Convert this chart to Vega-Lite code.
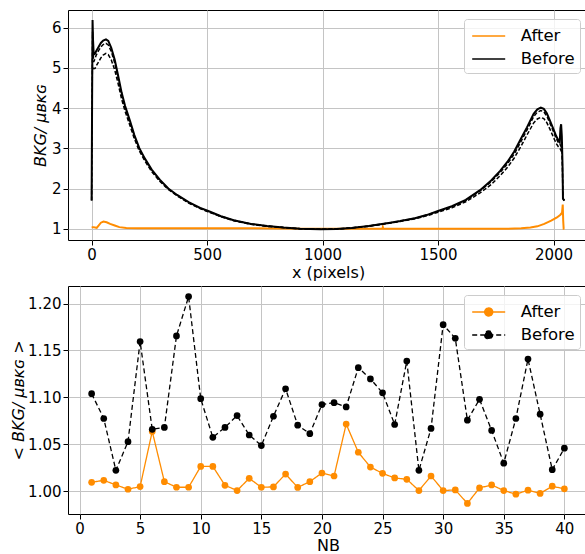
{
  "$schema": "https://vega.github.io/schema/vega-lite/v6.json",
  "padding": {"left": 10, "top": 9, "right": 0, "bottom": 0},
  "spacing": 46,
  "bounds": "flush",
  "resolve": {"scale": {"color": "independent", "strokeDash": "independent"}, "legend": {"color": "independent", "strokeDash": "independent"}},
  "config": {
    "font": "DejaVu Sans",
    "view": {"stroke": "#000000", "strokeWidth": 1},
    "axis": {"grid": true, "gridColor": "#c4c4c4", "gridWidth": 1, "domain": false, "tickColor": "#000000", "tickSize": 5, "labelFontSize": 15, "labelColor": "#000000", "labelPadding": 2, "titleFontSize": 16, "titleFontWeight": "normal", "titleColor": "#000000", "labelFlush": false},
    "legend": {"orient": "top-right", "offset": 8.5, "padding": 5, "strokeColor": "#cccccc", "fillColor": "rgba(255,255,255,0.8)", "cornerRadius": 3, "labelFontSize": 16.5, "labelColor": "#000000", "symbolSize": 484, "symbolStrokeWidth": 1.5, "labelOffset": 27.7, "rowPadding": 2, "title": null}
  },
  "datasets": {
    "top": [
      {"x":0,"v":1.04,"c":"a","s":"After"},{"x":8,"v":1.04,"c":"a","s":"After"},{"x":15,"v":1.03,"c":"a","s":"After"},{"x":22,"v":1.02,"c":"a","s":"After"},{"x":30,"v":1.08,"c":"a","s":"After"},{"x":40,"v":1.15,"c":"a","s":"After"},{"x":51,"v":1.18,"c":"a","s":"After"},{"x":65,"v":1.16,"c":"a","s":"After"},{"x":80,"v":1.12,"c":"a","s":"After"},{"x":100,"v":1.08,"c":"a","s":"After"},{"x":120,"v":1.04,"c":"a","s":"After"},{"x":150,"v":1.02,"c":"a","s":"After"},{"x":200,"v":1.01,"c":"a","s":"After"},{"x":300,"v":1.01,"c":"a","s":"After"},{"x":400,"v":1.01,"c":"a","s":"After"},{"x":500,"v":1.01,"c":"a","s":"After"},{"x":600,"v":1.01,"c":"a","s":"After"},{"x":700,"v":1.01,"c":"a","s":"After"},{"x":800,"v":1.005,"c":"a","s":"After"},{"x":900,"v":1.0,"c":"a","s":"After"},{"x":1000,"v":1.0,"c":"a","s":"After"},{"x":1100,"v":1.0,"c":"a","s":"After"},{"x":1200,"v":1.0,"c":"a","s":"After"},{"x":1259,"v":1.0,"c":"a","s":"After"},{"x":1261,"v":1.04,"c":"a","s":"After"},{"x":1263,"v":1.0,"c":"a","s":"After"},{"x":1400,"v":1.0,"c":"a","s":"After"},{"x":1600,"v":1.0,"c":"a","s":"After"},{"x":1800,"v":1.0,"c":"a","s":"After"},{"x":1860,"v":1.01,"c":"a","s":"After"},{"x":1900,"v":1.03,"c":"a","s":"After"},{"x":1930,"v":1.06,"c":"a","s":"After"},{"x":1960,"v":1.12,"c":"a","s":"After"},{"x":1990,"v":1.2,"c":"a","s":"After"},{"x":2015,"v":1.28,"c":"a","s":"After"},{"x":2030,"v":1.35,"c":"a","s":"After"},{"x":2037,"v":1.4,"c":"a","s":"After"},{"x":2040,"v":1.6,"c":"a","s":"After"},{"x":2042,"v":1.2,"c":"a","s":"After"},{"x":2044,"v":1.0,"c":"a","s":"After"},{"x":2047,"v":1.0,"c":"a","s":"After"},

      {"x":0,"v":1.7,"c":"b1","s":"Before"},{"x":2,"v":4.2,"c":"b1","s":"Before"},{"x":4,"v":6.19,"c":"b1","s":"Before"},{"x":6,"v":5.7,"c":"b1","s":"Before"},{"x":9,"v":5.33,"c":"b1","s":"Before"},{"x":14,"v":5.35,"c":"b1","s":"Before"},{"x":20,"v":5.42,"c":"b1","s":"Before"},{"x":30,"v":5.52,"c":"b1","s":"Before"},{"x":40,"v":5.62,"c":"b1","s":"Before"},{"x":50,"v":5.68,"c":"b1","s":"Before"},{"x":62,"v":5.71,"c":"b1","s":"Before"},{"x":72,"v":5.67,"c":"b1","s":"Before"},{"x":85,"v":5.5,"c":"b1","s":"Before"},{"x":100,"v":5.2,"c":"b1","s":"Before"},{"x":115,"v":4.8,"c":"b1","s":"Before"},{"x":130,"v":4.38,"c":"b1","s":"Before"},{"x":145,"v":4.05,"c":"b1","s":"Before"},{"x":165,"v":3.7,"c":"b1","s":"Before"},{"x":185,"v":3.33,"c":"b1","s":"Before"},{"x":206,"v":3.01,"c":"b1","s":"Before"},{"x":230,"v":2.75,"c":"b1","s":"Before"},{"x":260,"v":2.47,"c":"b1","s":"Before"},{"x":295,"v":2.22,"c":"b1","s":"Before"},{"x":332,"v":2.0,"c":"b1","s":"Before"},{"x":370,"v":1.84,"c":"b1","s":"Before"},{"x":420,"v":1.66,"c":"b1","s":"Before"},{"x":470,"v":1.52,"c":"b1","s":"Before"},{"x":505,"v":1.44,"c":"b1","s":"Before"},{"x":560,"v":1.31,"c":"b1","s":"Before"},{"x":615,"v":1.21,"c":"b1","s":"Before"},{"x":690,"v":1.12,"c":"b1","s":"Before"},{"x":760,"v":1.07,"c":"b1","s":"Before"},{"x":830,"v":1.03,"c":"b1","s":"Before"},{"x":903,"v":1.0,"c":"b1","s":"Before"},{"x":990,"v":0.985,"c":"b1","s":"Before"},{"x":1060,"v":0.995,"c":"b1","s":"Before"},{"x":1125,"v":1.02,"c":"b1","s":"Before"},{"x":1200,"v":1.07,"c":"b1","s":"Before"},{"x":1293,"v":1.15,"c":"b1","s":"Before"},{"x":1336,"v":1.19,"c":"b1","s":"Before"},{"x":1400,"v":1.26,"c":"b1","s":"Before"},{"x":1450,"v":1.34,"c":"b1","s":"Before"},{"x":1500,"v":1.44,"c":"b1","s":"Before"},{"x":1560,"v":1.56,"c":"b1","s":"Before"},{"x":1620,"v":1.72,"c":"b1","s":"Before"},{"x":1682,"v":1.96,"c":"b1","s":"Before"},{"x":1730,"v":2.2,"c":"b1","s":"Before"},{"x":1769,"v":2.44,"c":"b1","s":"Before"},{"x":1800,"v":2.66,"c":"b1","s":"Before"},{"x":1830,"v":2.92,"c":"b1","s":"Before"},{"x":1860,"v":3.25,"c":"b1","s":"Before"},{"x":1885,"v":3.52,"c":"b1","s":"Before"},{"x":1914,"v":3.86,"c":"b1","s":"Before"},{"x":1930,"v":3.97,"c":"b1","s":"Before"},{"x":1945,"v":4.01,"c":"b1","s":"Before"},{"x":1958,"v":3.98,"c":"b1","s":"Before"},{"x":1971,"v":3.87,"c":"b1","s":"Before"},{"x":1985,"v":3.68,"c":"b1","s":"Before"},{"x":2000,"v":3.47,"c":"b1","s":"Before"},{"x":2012,"v":3.3,"c":"b1","s":"Before"},{"x":2021,"v":3.2,"c":"b1","s":"Before"},{"x":2027,"v":3.15,"c":"b1","s":"Before"},{"x":2030,"v":3.5,"c":"b1","s":"Before"},{"x":2033,"v":3.6,"c":"b1","s":"Before"},{"x":2036,"v":3.3,"c":"b1","s":"Before"},{"x":2039,"v":2.6,"c":"b1","s":"Before"},{"x":2041,"v":1.75,"c":"b1","s":"Before"},{"x":2047,"v":1.7,"c":"b1","s":"Before"},

      {"x":0,"v":1.7,"c":"b2","s":"Before"},{"x":2,"v":4.0,"c":"b2","s":"Before"},{"x":4,"v":5.9,"c":"b2","s":"Before"},{"x":6,"v":5.4,"c":"b2","s":"Before"},{"x":9,"v":5.15,"c":"b2","s":"Before"},{"x":14,"v":5.22,"c":"b2","s":"Before"},{"x":20,"v":5.32,"c":"b2","s":"Before"},{"x":30,"v":5.43,"c":"b2","s":"Before"},{"x":40,"v":5.52,"c":"b2","s":"Before"},{"x":50,"v":5.58,"c":"b2","s":"Before"},{"x":62,"v":5.61,"c":"b2","s":"Before"},{"x":72,"v":5.57,"c":"b2","s":"Before"},{"x":85,"v":5.41,"c":"b2","s":"Before"},{"x":100,"v":5.12,"c":"b2","s":"Before"},{"x":115,"v":4.73,"c":"b2","s":"Before"},{"x":130,"v":4.32,"c":"b2","s":"Before"},{"x":145,"v":4.0,"c":"b2","s":"Before"},{"x":165,"v":3.65,"c":"b2","s":"Before"},{"x":185,"v":3.29,"c":"b2","s":"Before"},{"x":206,"v":2.98,"c":"b2","s":"Before"},{"x":230,"v":2.72,"c":"b2","s":"Before"},{"x":260,"v":2.45,"c":"b2","s":"Before"},{"x":295,"v":2.2,"c":"b2","s":"Before"},{"x":332,"v":1.99,"c":"b2","s":"Before"},{"x":370,"v":1.83,"c":"b2","s":"Before"},{"x":420,"v":1.65,"c":"b2","s":"Before"},{"x":470,"v":1.51,"c":"b2","s":"Before"},{"x":505,"v":1.43,"c":"b2","s":"Before"},{"x":560,"v":1.31,"c":"b2","s":"Before"},{"x":615,"v":1.21,"c":"b2","s":"Before"},{"x":690,"v":1.12,"c":"b2","s":"Before"},{"x":760,"v":1.07,"c":"b2","s":"Before"},{"x":830,"v":1.03,"c":"b2","s":"Before"},{"x":903,"v":1.0,"c":"b2","s":"Before"},{"x":990,"v":0.985,"c":"b2","s":"Before"},{"x":1060,"v":0.995,"c":"b2","s":"Before"},{"x":1125,"v":1.02,"c":"b2","s":"Before"},{"x":1200,"v":1.07,"c":"b2","s":"Before"},{"x":1293,"v":1.15,"c":"b2","s":"Before"},{"x":1336,"v":1.19,"c":"b2","s":"Before"},{"x":1400,"v":1.26,"c":"b2","s":"Before"},{"x":1450,"v":1.34,"c":"b2","s":"Before"},{"x":1500,"v":1.43,"c":"b2","s":"Before"},{"x":1560,"v":1.55,"c":"b2","s":"Before"},{"x":1620,"v":1.7,"c":"b2","s":"Before"},{"x":1682,"v":1.94,"c":"b2","s":"Before"},{"x":1730,"v":2.17,"c":"b2","s":"Before"},{"x":1769,"v":2.4,"c":"b2","s":"Before"},{"x":1800,"v":2.61,"c":"b2","s":"Before"},{"x":1830,"v":2.86,"c":"b2","s":"Before"},{"x":1860,"v":3.18,"c":"b2","s":"Before"},{"x":1885,"v":3.45,"c":"b2","s":"Before"},{"x":1914,"v":3.79,"c":"b2","s":"Before"},{"x":1930,"v":3.9,"c":"b2","s":"Before"},{"x":1945,"v":3.94,"c":"b2","s":"Before"},{"x":1958,"v":3.91,"c":"b2","s":"Before"},{"x":1971,"v":3.8,"c":"b2","s":"Before"},{"x":1985,"v":3.62,"c":"b2","s":"Before"},{"x":2000,"v":3.41,"c":"b2","s":"Before"},{"x":2012,"v":3.24,"c":"b2","s":"Before"},{"x":2021,"v":3.14,"c":"b2","s":"Before"},{"x":2030,"v":3.08,"c":"b2","s":"Before"},{"x":2036,"v":3.0,"c":"b2","s":"Before"},{"x":2039,"v":2.4,"c":"b2","s":"Before"},{"x":2041,"v":1.75,"c":"b2","s":"Before"},{"x":2047,"v":1.7,"c":"b2","s":"Before"},

      {"x":4,"v":5.0,"c":"b3","s":"Before"},{"x":9,"v":4.98,"c":"b3","s":"Before"},{"x":15,"v":4.99,"c":"b3","s":"Before"},{"x":20,"v":5.05,"c":"b3","s":"Before"},{"x":30,"v":5.15,"c":"b3","s":"Before"},{"x":40,"v":5.25,"c":"b3","s":"Before"},{"x":50,"v":5.32,"c":"b3","s":"Before"},{"x":62,"v":5.36,"c":"b3","s":"Before"},{"x":72,"v":5.33,"c":"b3","s":"Before"},{"x":85,"v":5.2,"c":"b3","s":"Before"},{"x":100,"v":4.95,"c":"b3","s":"Before"},{"x":115,"v":4.6,"c":"b3","s":"Before"},{"x":130,"v":4.22,"c":"b3","s":"Before"},{"x":145,"v":3.92,"c":"b3","s":"Before"},{"x":165,"v":3.58,"c":"b3","s":"Before"},{"x":185,"v":3.24,"c":"b3","s":"Before"},{"x":206,"v":2.94,"c":"b3","s":"Before"},{"x":230,"v":2.69,"c":"b3","s":"Before"},{"x":260,"v":2.42,"c":"b3","s":"Before"},{"x":295,"v":2.18,"c":"b3","s":"Before"},{"x":332,"v":1.98,"c":"b3","s":"Before"},{"x":370,"v":1.82,"c":"b3","s":"Before"},{"x":420,"v":1.64,"c":"b3","s":"Before"},{"x":470,"v":1.5,"c":"b3","s":"Before"},{"x":505,"v":1.42,"c":"b3","s":"Before"},{"x":560,"v":1.3,"c":"b3","s":"Before"},{"x":615,"v":1.2,"c":"b3","s":"Before"},{"x":690,"v":1.11,"c":"b3","s":"Before"},{"x":760,"v":1.06,"c":"b3","s":"Before"},{"x":830,"v":1.03,"c":"b3","s":"Before"},{"x":903,"v":1.0,"c":"b3","s":"Before"},{"x":990,"v":0.985,"c":"b3","s":"Before"},{"x":1060,"v":0.995,"c":"b3","s":"Before"},{"x":1125,"v":1.02,"c":"b3","s":"Before"},{"x":1200,"v":1.06,"c":"b3","s":"Before"},{"x":1293,"v":1.14,"c":"b3","s":"Before"},{"x":1336,"v":1.18,"c":"b3","s":"Before"},{"x":1400,"v":1.25,"c":"b3","s":"Before"},{"x":1450,"v":1.32,"c":"b3","s":"Before"},{"x":1500,"v":1.41,"c":"b3","s":"Before"},{"x":1560,"v":1.52,"c":"b3","s":"Before"},{"x":1620,"v":1.67,"c":"b3","s":"Before"},{"x":1682,"v":1.89,"c":"b3","s":"Before"},{"x":1730,"v":2.1,"c":"b3","s":"Before"},{"x":1769,"v":2.32,"c":"b3","s":"Before"},{"x":1800,"v":2.52,"c":"b3","s":"Before"},{"x":1830,"v":2.76,"c":"b3","s":"Before"},{"x":1860,"v":3.06,"c":"b3","s":"Before"},{"x":1885,"v":3.33,"c":"b3","s":"Before"},{"x":1914,"v":3.63,"c":"b3","s":"Before"},{"x":1930,"v":3.73,"c":"b3","s":"Before"},{"x":1945,"v":3.77,"c":"b3","s":"Before"},{"x":1958,"v":3.74,"c":"b3","s":"Before"},{"x":1971,"v":3.64,"c":"b3","s":"Before"},{"x":1985,"v":3.47,"c":"b3","s":"Before"},{"x":2000,"v":3.27,"c":"b3","s":"Before"},{"x":2012,"v":3.12,"c":"b3","s":"Before"},{"x":2021,"v":3.04,"c":"b3","s":"Before"},{"x":2030,"v":2.98,"c":"b3","s":"Before"},{"x":2036,"v":2.9,"c":"b3","s":"Before"}
    ],
    "bottom": [
      {"nb":1,"v":1.0095,"s":"After"},{"nb":2,"v":1.0116,"s":"After"},{"nb":3,"v":1.0067,"s":"After"},{"nb":4,"v":1.0021,"s":"After"},{"nb":5,"v":1.0049,"s":"After"},{"nb":6,"v":1.0637,"s":"After"},{"nb":7,"v":1.0102,"s":"After"},{"nb":8,"v":1.0042,"s":"After"},{"nb":9,"v":1.0042,"s":"After"},{"nb":10,"v":1.0264,"s":"After"},{"nb":11,"v":1.0264,"s":"After"},{"nb":12,"v":1.0063,"s":"After"},{"nb":13,"v":1.0007,"s":"After"},{"nb":14,"v":1.0137,"s":"After"},{"nb":15,"v":1.0042,"s":"After"},{"nb":16,"v":1.0046,"s":"After"},{"nb":17,"v":1.0183,"s":"After"},{"nb":18,"v":1.004,"s":"After"},{"nb":19,"v":1.0102,"s":"After"},{"nb":20,"v":1.0194,"s":"After"},{"nb":21,"v":1.0162,"s":"After"},{"nb":22,"v":1.0715,"s":"After"},{"nb":23,"v":1.0415,"s":"After"},{"nb":24,"v":1.0257,"s":"After"},{"nb":25,"v":1.019,"s":"After"},{"nb":26,"v":1.0141,"s":"After"},{"nb":27,"v":1.0127,"s":"After"},{"nb":28,"v":1.0007,"s":"After"},{"nb":29,"v":1.0162,"s":"After"},{"nb":30,"v":1.0007,"s":"After"},{"nb":31,"v":1.0014,"s":"After"},{"nb":32,"v":0.987,"s":"After"},{"nb":33,"v":1.0035,"s":"After"},{"nb":34,"v":1.0067,"s":"After"},{"nb":35,"v":1.0007,"s":"After"},{"nb":36,"v":0.9968,"s":"After"},{"nb":37,"v":1.0011,"s":"After"},{"nb":38,"v":0.9976,"s":"After"},{"nb":39,"v":1.0053,"s":"After"},{"nb":40,"v":1.0025,"s":"After"},
      {"nb":1,"v":1.1039,"s":"Before"},{"nb":2,"v":1.0775,"s":"Before"},{"nb":3,"v":1.0222,"s":"Before"},{"nb":4,"v":1.0528,"s":"Before"},{"nb":5,"v":1.1595,"s":"Before"},{"nb":6,"v":1.0659,"s":"Before"},{"nb":7,"v":1.068,"s":"Before"},{"nb":8,"v":1.1655,"s":"Before"},{"nb":9,"v":1.2074,"s":"Before"},{"nb":10,"v":1.0986,"s":"Before"},{"nb":11,"v":1.0574,"s":"Before"},{"nb":12,"v":1.068,"s":"Before"},{"nb":13,"v":1.0806,"s":"Before"},{"nb":14,"v":1.0599,"s":"Before"},{"nb":15,"v":1.0486,"s":"Before"},{"nb":16,"v":1.0799,"s":"Before"},{"nb":17,"v":1.1092,"s":"Before"},{"nb":18,"v":1.0704,"s":"Before"},{"nb":19,"v":1.0613,"s":"Before"},{"nb":20,"v":1.0923,"s":"Before"},{"nb":21,"v":1.0944,"s":"Before"},{"nb":22,"v":1.0898,"s":"Before"},{"nb":23,"v":1.1317,"s":"Before"},{"nb":24,"v":1.1197,"s":"Before"},{"nb":25,"v":1.1049,"s":"Before"},{"nb":26,"v":1.0711,"s":"Before"},{"nb":27,"v":1.1387,"s":"Before"},{"nb":28,"v":1.0222,"s":"Before"},{"nb":29,"v":1.0669,"s":"Before"},{"nb":30,"v":1.1775,"s":"Before"},{"nb":31,"v":1.163,"s":"Before"},{"nb":32,"v":1.0757,"s":"Before"},{"nb":33,"v":1.0979,"s":"Before"},{"nb":34,"v":1.0648,"s":"Before"},{"nb":35,"v":1.0299,"s":"Before"},{"nb":36,"v":1.0775,"s":"Before"},{"nb":37,"v":1.1408,"s":"Before"},{"nb":38,"v":1.0821,"s":"Before"},{"nb":39,"v":1.0229,"s":"Before"},{"nb":40,"v":1.0458,"s":"Before"}
    ]
  },
  "vconcat": [
    {
      "width": 520,
      "height": 230,
      "data": {"name": "top"},
      "layer": [
        {
          "transform": [{"filter": "datum.c === 'a' || datum.c === 'b1'"}],
          "mark": {"type": "line", "strokeWidth": 2, "clip": true},
          "encoding": {
            "x": {"field": "x", "type": "quantitative", "scale": {"domain": [-102.35, 2149.35], "nice": false, "zero": false}, "axis": {"values": [0, 500, 1000, 1500, 2000], "format": "d", "title": "x (pixels)", "titlePadding": 2}},
            "y": {"field": "v", "type": "quantitative", "scale": {"domain": [0.72, 6.44], "nice": false, "zero": false}, "axis": {"values": [1, 2, 3, 4, 5, 6], "title": "BKG/ μʙᴋɢ", "titleFontStyle": "italic", "titlePadding": 3}},
            "color": {"field": "s", "type": "nominal", "scale": {"domain": ["After", "Before"], "range": ["#ff8c00", "#000000"]}, "legend": {"symbolType": "M-0.8,0H2.2", "symbolDash": [1, 0]}},
            "detail": {"field": "c"}
          }
        },
        {
          "transform": [{"filter": "datum.c === 'b2' || datum.c === 'b3'"}],
          "mark": {"type": "line", "strokeWidth": 1.5, "strokeDash": [4, 2], "color": "#000000", "clip": true},
          "encoding": {
            "x": {"field": "x", "type": "quantitative"},
            "y": {"field": "v", "type": "quantitative"},
            "detail": {"field": "c"}
          }
        }
      ]
    },
    {
      "width": 520,
      "height": 228,
      "data": {"name": "bottom"},
      "encoding": {
        "x": {"field": "nb", "type": "quantitative", "scale": {"domain": [-0.95, 41.95], "nice": false, "zero": false}, "axis": {"values": [0, 5, 10, 15, 20, 25, 30, 35, 40], "title": "NB", "titlePadding": 1.5}},
        "y": {"field": "v", "type": "quantitative", "scale": {"domain": [0.9757, 1.2187], "nice": false, "zero": false}, "axis": {"values": [1.0, 1.05, 1.1, 1.15, 1.2], "format": ".2f", "title": "< BKG/ μʙᴋɢ >", "titleFontStyle": "italic", "titlePadding": 1}},
        "color": {"field": "s", "type": "nominal", "scale": {"domain": ["After", "Before"], "range": ["#ff8c00", "#000000"]}, "legend": {"symbolType": "M-0.8,0H2.2M0.34,0A0.36,0.36,0,1,0,1.06,0A0.36,0.36,0,1,0,0.34,0Z"}}
      },
      "layer": [
        {
          "mark": {"type": "line", "strokeWidth": 1.3},
          "encoding": {
            "strokeDash": {"field": "s", "type": "nominal", "scale": {"domain": ["After", "Before"], "range": [[1, 0], [5, 3]]}}
          }
        },
        {
          "mark": {"type": "point", "filled": true, "size": 45, "opacity": 1}
        }
      ]
    }
  ]
}
